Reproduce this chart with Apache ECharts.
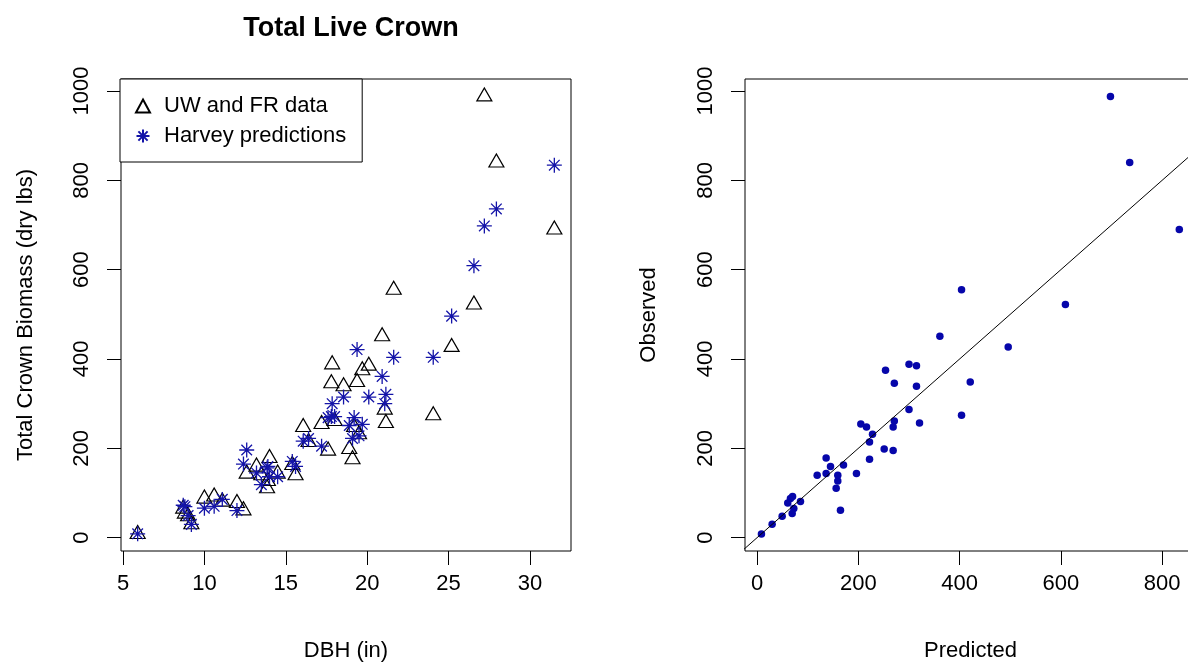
<!DOCTYPE html>
<html>
<head>
<meta charset="utf-8">
<title>Total Live Crown</title>
<script src="https://cdn.jsdelivr.net/npm/echarts@6/dist/echarts.min.js"></script>
<style>
  html, body { margin: 0; padding: 0; background: #fff; }
  #chart { width: 1188px; height: 665px; }
</style>
</head>
<body>
<div id="chart"></div>
<script>
// one entry per tree: diameter, Harvey prediction, measured value
const dbh = [5.9, 8.7, 8.8, 9.0, 9.2, 10.0, 10.6, 11.1, 12.0, 12.4,
  12.6, 13.2, 13.5, 13.85, 13.9, 14.0, 14.5, 15.4, 15.6, 16.07,
  16.4, 17.2, 17.6, 17.8, 17.85, 18.0, 18.55, 18.9, 19.1, 19.2,
  19.38, 19.5, 19.7, 20.1, 20.92, 21.08, 21.15, 21.63, 24.06, 25.19,
  26.56, 27.2, 27.94, 31.5]
const predicted = [8.5, 72.4, 69.2, 49.4, 29.6, 65.8, 70, 85.6, 60.5, 164.6,
  196.2, 144.9, 118.6, 156.1, 159.3, 136.3, 136.3, 170.6, 159.3, 216,
  222, 204.8, 268.7, 271, 300, 271, 314.8, 251, 222, 268.7,
  421, 227.9, 253.6, 314.8, 361, 300, 320.8, 403.8, 403.8, 496,
  609, 698, 736, 834]
const observed = [8.1, 64.9, 53.7, 47.7, 29.8, 87.3, 92, 80.6, 77.5, 61.1,
  143.3, 159, 139.5, 110.4, 126.8, 178.3, 143.3, 162.6, 139.5, 247.7,
  214.1, 254.4, 194.8, 345.6, 388, 261, 338.9, 198.5, 175.4, 247.7,
  348.5, 231.4, 374.7, 385, 451, 286.7, 256.7, 555, 274, 427,
  522, 988, 840, 690]

const dbhTicks = [5, 10, 15, 20, 25, 30]
const biomassTicks = [0, 200, 400, 600, 800, 1000]
const predTicks = [0, 200, 400, 600, 800]
const oneToOne = [-100, 1100]

const chart = echarts.init(document.getElementById('chart'))

const font = 'Liberation Sans, Arial, sans-serif'
const asterisk = 'path://M0,-10L0,10M-10,0L10,0M-7.07,-7.07L7.07,7.07M-7.07,7.07L7.07,-7.07'

function valueAxis(gridIndex, min, max, ticks, name, gap, isY) {
  return {
    type: 'value',
    gridIndex,
    min,
    max,
    name,
    nameLocation: 'middle',
    nameGap: gap,
    nameTextStyle: { fontFamily: font, fontSize: 22, color: '#000' },
    axisLine: { show: false, onZero: false },
    axisTick: { show: true, length: 14, customValues: ticks, lineStyle: { color: '#000', width: 1 } },
    axisLabel: {
      customValues: ticks,
      formatter: v => String(v),
      fontFamily: font,
      fontSize: 22,
      color: '#000',
      rotate: isY ? 90 : 0,
      margin: isY ? 28 : 22
    },
    splitLine: { show: false }
  }
}

const option = {
  backgroundColor: '#fff',
  animation: false,
  title: {
    text: 'Total Live Crown',
    left: 346,
    top: 10,
    textAlign: 'center',
    textStyle: { fontFamily: font, fontSize: 27, fontWeight: 'bold', color: '#000' }
  },
  legend: {
    data: ['UW and FR data', 'Harvey predictions'],
    orient: 'vertical',
    left: 120,
    top: 79,
    padding: [16, 16, 15, 15],
    itemGap: 8,
    itemWidth: 14,
    itemHeight: 13,
    borderColor: '#000',
    borderWidth: 1,
    backgroundColor: '#fff',
    selectedMode: false,
    textStyle: { fontFamily: font, fontSize: 22, color: '#000', lineHeight: 22, padding: [0, 0, 0, 9] }
  },
  grid: [
    { left: 121, top: 79, width: 450, height: 472, outerBoundsMode: 'none', containLabel: false, show: true, borderColor: '#000', borderWidth: 1, backgroundColor: 'transparent' },
    { left: 745, top: 79, width: 451, height: 472, outerBoundsMode: 'none', containLabel: false, show: true, borderColor: '#000', borderWidth: 1, backgroundColor: 'transparent' }
  ],
  xAxis: [
    valueAxis(0, 4.876, 32.524, dbhTicks, 'DBH (in)', 89, false),
    valueAxis(1, -24, 867, predTicks, 'Predicted', 89, false)
  ],
  yAxis: [
    valueAxis(0, -30, 1027, biomassTicks, 'Total Crown Biomass (dry lbs)', 84, true),
    valueAxis(1, -30, 1027, biomassTicks, 'Observed', 85, true)
  ],
  series: [
    {
      name: 'UW and FR data',
      type: 'scatter',
      xAxisIndex: 0,
      yAxisIndex: 0,
      data: dbh.map((d, i) => [d, observed[i]]),
      symbol: 'triangle',
      symbolSize: [15, 13],
      symbolOffset: [0, -2],
      itemStyle: { color: 'rgba(0,0,0,0)', borderColor: '#000', borderWidth: 1.2, opacity: 1 }
    },
    {
      name: 'Harvey predictions',
      type: 'scatter',
      xAxisIndex: 0,
      yAxisIndex: 0,
      data: dbh.map((d, i) => [d, predicted[i]]),
      symbol: asterisk,
      symbolSize: 15,
      itemStyle: { color: 'rgba(0,0,0,0)', borderColor: '#1414a8', borderWidth: 1.3, opacity: 1 }
    },
    {
      name: 'obs vs pred',
      type: 'scatter',
      xAxisIndex: 1,
      yAxisIndex: 1,
      data: predicted.map((p, i) => [p, observed[i]]),
      symbol: 'circle',
      symbolSize: 7.5,
      itemStyle: { color: '#0606aa', opacity: 1 }
    },
    {
      name: '1:1',
      type: 'line',
      xAxisIndex: 1,
      yAxisIndex: 1,
      data: oneToOne.map(v => [v, v]),
      showSymbol: false,
      symbol: 'none',
      clip: true,
      silent: true,
      lineStyle: { color: '#000', width: 1 }
    }
  ]
}

chart.setOption(option)
</script>
</body>
</html>
